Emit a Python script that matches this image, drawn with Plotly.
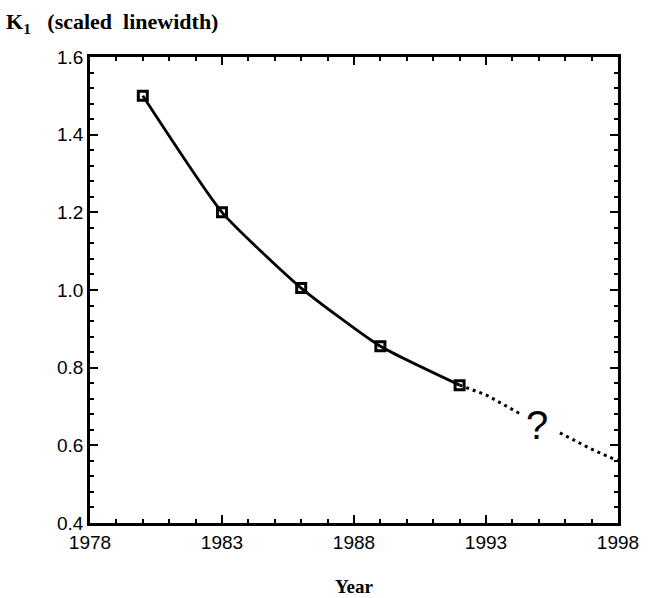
import plotly.graph_objects as go

# Measured scaled linewidth K1 by year
years = [1980, 1983, 1986, 1989, 1992]
k1 = [1.50, 1.20, 1.005, 0.855, 0.755]

# Projected trend (dotted), broken around the question mark
proj_years = [1992, 1993, 1994.3, None, 1995.8, 1997, 1998]
proj_k1 = [0.755, 0.73, 0.681, None, 0.632, 0.59, 0.56]

x_ticks = [1978, 1983, 1988, 1993, 1998]
y_ticks = [0.4, 0.6, 0.8, 1.0, 1.2, 1.4, 1.6]

fig = go.Figure()

fig.add_trace(go.Scatter(
    x=proj_years, y=proj_k1, mode="lines",
    line=dict(color="black", width=3, dash="3px,4px"),
    connectgaps=False, hoverinfo="skip", showlegend=False,
))

fig.add_trace(go.Scatter(
    x=years, y=k1, mode="lines+markers",
    line=dict(color="black", width=2.8, shape="spline", smoothing=0.5),
    marker=dict(symbol="square-open", size=9, color="black",
                line=dict(color="black", width=3)),
    showlegend=False,
))

tick_font = dict(family="Liberation Sans, Arial, sans-serif", size=19, color="black")
serif_bold = dict(family="Liberation Serif, Times New Roman, serif", size=22,
                  color="black", weight="bold")

fig.update_xaxes(
    range=[1978, 1998], tickvals=x_ticks, ticktext=[str(v) for v in x_ticks],
    ticks="inside", ticklen=8, tickwidth=2, tickcolor="black",
    minor=dict(dtick=1, tick0=1978, ticks="inside", ticklen=4, tickwidth=2, tickcolor="black"),
    showline=True, linecolor="black", linewidth=2.5, mirror="ticks",
    showgrid=False, zeroline=False, tickfont=tick_font,
)
fig.update_yaxes(
    range=[0.4, 1.6], tickvals=y_ticks, ticktext=[f"{v:.1f}" for v in y_ticks],
    ticks="inside", ticklen=8, tickwidth=2, tickcolor="black",
    minor=dict(dtick=0.04, tick0=0.4, ticks="inside", ticklen=4, tickwidth=2, tickcolor="black"),
    showline=True, linecolor="black", linewidth=2.5, mirror="ticks",
    showgrid=False, zeroline=False, tickfont=tick_font,
)

fig.add_annotation(
    text="K<sub>1</sub>   (scaled  linewidth)", xref="paper", yref="paper",
    x=-0.162, y=1.072, xanchor="left", yanchor="middle",
    showarrow=False, font=serif_bold,
)
fig.add_annotation(
    text="Year", xref="paper", yref="paper",
    x=0.5, y=-0.136, xanchor="center", yanchor="middle",
    showarrow=False, font=dict(serif_bold, size=19),
)
fig.add_annotation(
    text="?", x=1994.95, y=0.652, xanchor="center", yanchor="middle",
    showarrow=False,
    font=dict(family="Liberation Sans, Arial, sans-serif", size=40, color="black"),
)

fig.update_layout(
    width=651, height=598,
    margin=dict(l=90, r=23, t=57, b=75),
    paper_bgcolor="white", plot_bgcolor="white",
)

fig.write_html("out.html")
